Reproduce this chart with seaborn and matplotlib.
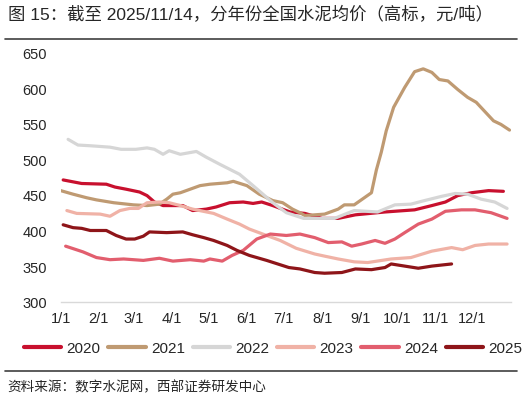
import numpy as np
import pandas as pd
import matplotlib
matplotlib.use("Agg")
import matplotlib.pyplot as plt
from matplotlib.lines import Line2D
import seaborn as sns

# x = day of year, y = 全国水泥均价 (元/吨)
day_2020 = [2, 17, 37, 44, 53, 64, 70, 76, 83, 99, 107, 118, 126, 137, 148, 156, 163, 172, 186,
            198, 212, 225, 239, 263, 287, 301, 312, 322, 333, 347, 359]
price_2020 = [471, 466, 465, 461, 458, 454, 449, 440, 435, 435, 428, 430, 433, 439, 440, 438, 440, 435, 426,
              424, 417, 417, 422, 426, 429, 435, 440, 449, 453, 456, 455]

day_2021 = [0, 10, 21, 29, 43, 59, 70, 80, 86, 91, 97, 105, 113, 121, 135, 140, 151, 161, 172, 180,
            188, 194, 198, 214, 225, 230, 238, 252, 256, 260, 264, 270, 279, 287, 294, 301, 307, 314,
            322, 330, 337, 351, 357, 364]
price_2021 = [456, 451, 446, 443, 439, 436, 435, 437, 444, 451, 453, 458, 463, 465, 467, 469, 463, 451, 442, 439,
              430, 425, 421, 423, 430, 436, 436, 453, 485, 510, 540, 573, 601, 623, 627, 622, 612, 610,
              598, 587, 580, 554, 549, 541]

day_2022 = [6, 14, 24, 40, 49, 61, 70, 76, 83, 88, 97, 110, 118, 129, 145, 156, 172, 183, 197,
            222, 238, 257, 271, 284, 295, 309, 320, 330, 341, 352, 362]
price_2022 = [528, 520, 519, 517, 514, 514, 516, 514, 507, 512, 507, 511, 503, 493, 479, 463, 439, 425, 417,
              417, 428, 426, 436, 437, 442, 448, 452, 451, 444, 440, 431]

day_2023 = [5, 13, 32, 40, 48, 56, 63, 70, 80, 88, 97, 107, 124, 135, 145, 153, 167, 178, 191,
            206, 214, 225, 238, 249, 268, 284, 301, 317, 326, 336, 347, 362]
price_2023 = [428, 424, 423, 420, 428, 431, 431, 439, 440, 439, 435, 430, 424, 416, 409, 402, 393, 386, 375,
              367, 364, 360, 356, 355, 360, 362, 371, 376, 373, 379, 381, 381]

day_2024 = [4, 18, 29, 40, 51, 67, 80, 91, 105, 116, 121, 131, 139, 148, 159, 170, 183, 194, 206,
            217, 228, 236, 244, 255, 263, 271, 279, 290, 301, 312, 325, 336, 349, 362]
price_2024 = [378, 370, 362, 359, 360, 358, 361, 357, 359, 357, 360, 357, 365, 372, 388, 395, 393, 395, 390,
              383, 384, 378, 381, 386, 382, 388, 397, 409, 416, 427, 429, 429, 425, 417]

day_2025 = [2, 10, 17, 24, 37, 45, 53, 60, 67, 72, 86, 99, 107, 116, 124, 135, 143, 153, 167,
            185, 194, 206, 214, 228, 239, 252, 263, 268, 279, 290, 301, 317]
price_2025 = [408, 404, 403, 400, 400, 393, 388, 388, 392, 398, 397, 398, 394, 390, 386, 379, 372, 365, 358,
              348, 346, 341, 340, 341, 346, 345, 348, 353, 350, 347, 350, 353]

years = ["2020", "2021", "2022", "2023", "2024", "2025"]
colors = ["#C8102E", "#BF9A72", "#D6D6D6", "#F0B2A6", "#E25E6E", "#8E1519"]
month_days = [0, 31, 59, 90, 120, 151, 181, 212, 243, 273, 304, 334]
month_labels = ["1/1", "2/1", "3/1", "4/1", "5/1", "6/1", "7/1", "8/1", "9/1", "10/1", "11/1", "12/1"]
y_ticks = [300, 350, 400, 450, 500, 550, 600, 650]

title = "图 15：截至 2025/11/14，分年份全国水泥均价（高标，元/吨）"
source = "资料来源：数字水泥网，西部证券研发中心"

sns.set_style("white")
plt.rcParams["font.family"] = ["Liberation Sans", "Noto Sans CJK SC"]

days = [day_2020, day_2021, day_2022, day_2023, day_2024, day_2025]
prices = [price_2020, price_2021, price_2022, price_2023, price_2024, price_2025]
df = pd.concat(
    [pd.DataFrame({"day": d, "price": p, "year": y}) for d, p, y in zip(days, prices, years)],
    ignore_index=True,
)
palette = dict(zip(years, colors))

fig = plt.figure(figsize=(5.27, 4.02), dpi=100)
ax = fig.add_axes([0.1152, 0.247, 0.854, 0.620])

sns.lineplot(data=df, x="day", y="price", hue="year", palette=palette,
             linewidth=2.3, estimator=None, sort=False, legend=False, ax=ax)
for ln in ax.get_lines():
    ln.set_solid_capstyle("round")

ax.set_xlim(0, 365)
ax.set_ylim(300, 650)
ax.set_xticks(month_days)
ax.set_xticklabels(month_labels)
ax.set_xticks([365], minor=True)
ax.set_yticks(y_ticks)
ax.set_xlabel("")
ax.set_ylabel("")

for side in ["left", "top", "right"]:
    ax.spines[side].set_visible(False)
ax.spines["bottom"].set_color("#D9D9D9")
ax.spines["bottom"].set_linewidth(1.0)
ax.tick_params(axis="x", which="both", direction="out", length=4, width=1,
               color="#D9D9D9", labelsize=10.5, pad=3)
ax.tick_params(axis="y", length=0, labelsize=10.5, pad=10)

# 图例
handles = [Line2D([0], [0], color=c, lw=3, solid_capstyle="round") for c in colors]
fig.legend(handles, years, loc="center left", bbox_to_anchor=(0.045, 0.132), ncol=6,
           frameon=False, fontsize=11, handlelength=2.45, handletextpad=0.35,
           columnspacing=0.5, borderaxespad=0, borderpad=0)

fig.add_artist(Line2D([0.0095, 0.981], [0.9005, 0.9005], transform=fig.transFigure,
                      color="#404040", lw=1.2))
fig.add_artist(Line2D([0.0095, 0.981], [0.0746, 0.0746], transform=fig.transFigure,
                      color="#404040", lw=1.2))
fig.text(0.0152, 0.9627, title, fontsize=12.5, va="center", ha="left")
fig.text(0.0133, 0.0373, source, fontsize=9.8, va="center", ha="left")

fig.savefig("out.png", dpi=100)
